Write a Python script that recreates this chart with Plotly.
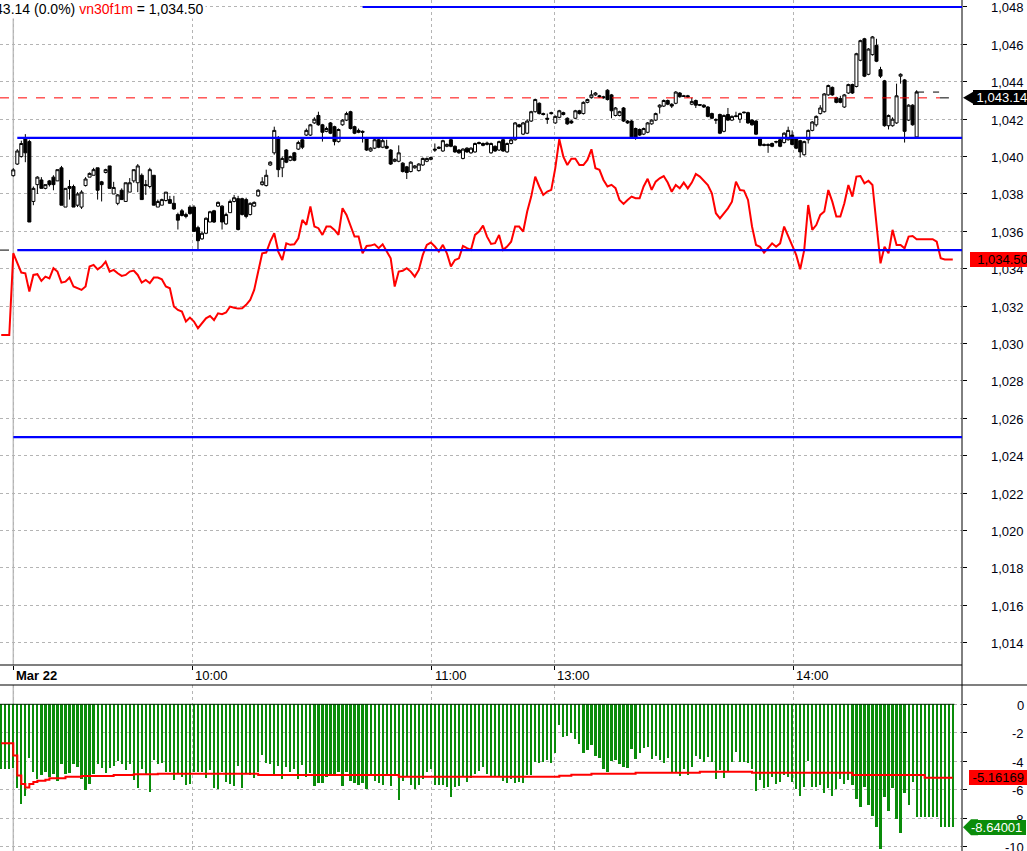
import plotly.graph_objects as go

# ---------------- data ----------------
bar_index = list(range(-3, 235))      # 1-minute bars (3 from previous session, then Mar 22)
candle_index = list(range(0, 226))

cndl_open = [
1038.98,1039.6,1040.0,1041.0,1040.8,1037.6,1038.5,1038.75,1038.3,1038.7,
1038.9,1038.7,1039.4,1037.3,1038.4,1038.4,1037.4,1037.3,1038.45,1038.9,
1039.0,1039.4,1038.65,1039.15,1039.5,1038.0,1037.5,1038.2,1037.6,1038.1,
1038.7,1038.6,1039.0,1038.5,1038.4,1039.0,1037.3,1037.4,1037.65,1037.7,
1037.5,1036.9,1037.1,1036.9,1037.3,1037.3,1036.2,1035.6,1035.9,1036.5,
1037.1,1037.35,1037.35,1036.4,1037.0,1037.6,1037.75,1037.75,1037.7,1036.9,
1037.35,1037.9,1038.5,1038.45,1039.55,1040.2,1041.0,1039.4,1040.35,1039.8,
1040.2,1040.4,1040.9,1041.15,1041.15,1041.8,1042.2,1041.7,1041.35,1041.8,
1041.6,1040.8,1041.7,1041.95,1042.4,1041.6,1041.4,1041.35,1041.0,1040.3,
1040.45,1040.9,1040.5,1040.55,1040.35,1039.75,1039.75,1039.65,1039.45,1039.2,
1039.4,1039.25,1039.55,1039.75,1039.85,1040.4,1040.5,1040.3,1040.55,1040.9,
1040.55,1040.35,1039.9,1040.45,1040.2,1040.25,1040.75,1040.7,1040.65,1040.2,
1040.55,1040.35,1040.9,1040.25,1040.7,1040.9,1041.7,1041.2,1041.25,1041.9,
1042.4,1042.85,1042.3,1042.05,1042.35,1041.8,1042.1,1042.35,1042.05,1041.9,
1042.05,1042.45,1042.3,1042.9,1043.15,1043.3,1043.25,1043.2,1043.55,1043.3,
1042.2,1042.2,1042.6,1041.9,1041.9,1041.5,1041.45,1041.2,1041.3,1041.75,
1041.95,1042.65,1042.7,1043.0,1042.8,1042.85,1043.4,1043.25,1043.25,1042.8,
1043.0,1042.78,1042.75,1042.65,1042.3,1041.98,1042.25,1041.35,1042.25,1041.95,
1042.18,1042.0,1042.38,1042.35,1041.95,1041.9,1041.0,1040.65,1040.65,1040.7,
1040.8,1040.9,1040.75,1040.9,1041.15,1040.95,1040.85,1040.1,1040.9,1041.4,
1041.7,1042.3,1042.4,1043.3,1043.7,1043.15,1043.1,1042.65,1043.4,1043.85,
1043.75,1045.15,1046.3,1044.4,1045.45,1045.95,1044.65,1044.05,1041.65,1041.65,
1041.8,1044.3,1044.1,1041.95,1042.75,1041.05]
cndl_high = [
1039.38,1040.4,1040.85,1041.2,1040.9,1038.4,1038.95,1038.9,1038.5,1038.75,
1039.0,1039.3,1039.5,1038.3,1038.75,1038.5,1038.1,1038.2,1038.9,1039.15,
1039.4,1039.4,1038.7,1039.35,1039.5,1038.65,1038.0,1038.3,1038.6,1038.85,
1039.3,1039.6,1039.1,1038.75,1039.4,1039.0,1037.7,1037.75,1038.1,1037.9,
1037.9,1037.0,1037.2,1037.0,1037.4,1037.4,1036.3,1036.0,1036.75,1037.1,
1037.15,1037.6,1037.4,1037.0,1037.7,1037.95,1037.9,1037.8,1037.8,1037.55,
1037.6,1038.25,1038.9,1039.3,1039.75,1041.6,1041.1,1040.0,1040.4,1040.05,
1040.25,1040.85,1041.0,1041.5,1041.75,1042.1,1042.4,1041.75,1041.6,1041.85,
1041.65,1041.5,1042.0,1042.4,1042.45,1041.65,1041.5,1041.4,1041.05,1040.5,
1040.95,1040.95,1041.0,1040.9,1040.4,1039.9,1040.6,1039.7,1039.5,1039.75,
1039.55,1039.65,1039.95,1039.95,1040.0,1040.7,1040.55,1040.9,1040.7,1040.95,
1040.6,1040.4,1040.45,1040.5,1040.5,1040.75,1040.8,1040.75,1040.8,1040.75,
1040.6,1040.85,1040.95,1040.75,1040.95,1041.85,1041.75,1041.85,1042.0,1042.45,
1043.1,1042.9,1042.35,1042.3,1042.4,1042.2,1042.5,1042.4,1042.1,1041.95,
1042.5,1042.5,1042.95,1043.1,1043.55,1043.45,1043.3,1043.25,1043.6,1043.35,
1042.65,1042.45,1042.65,1041.95,1041.95,1041.55,1041.5,1041.55,1041.85,1042.0,
1042.35,1042.8,1043.05,1043.05,1042.85,1043.5,1043.45,1043.3,1043.3,1043.15,
1043.05,1042.8,1042.8,1042.7,1042.35,1042.05,1042.3,1042.25,1042.6,1042.2,
1042.4,1042.35,1042.4,1042.4,1042.0,1041.95,1041.05,1040.7,1040.7,1040.75,
1040.85,1040.95,1041.3,1041.6,1041.4,1041.0,1040.9,1040.85,1041.45,1041.9,
1042.2,1042.75,1043.4,1043.85,1043.75,1043.2,1043.25,1043.35,1043.9,1043.9,
1045.55,1046.25,1046.35,1045.8,1046.45,1046.3,1044.8,1044.1,1042.25,1042.1,
1043.9,1044.45,1044.15,1042.8,1042.8,1043.55]
cndl_low = [
1038.93,1039.55,1039.95,1039.7,1036.5,1037.4,1038.0,1038.3,1038.25,1038.4,
1038.2,1038.7,1037.4,1037.3,1037.7,1037.3,1037.3,1037.2,1038.4,1038.9,
1039.0,1037.7,1037.6,1039.1,1038.3,1038.0,1037.4,1037.7,1037.6,1038.1,
1038.6,1038.1,1037.7,1037.95,1038.3,1037.4,1037.3,1037.4,1037.6,1037.5,
1037.15,1036.1,1036.8,1036.7,1036.9,1036.0,1035.05,1035.55,1035.85,1036.5,
1036.45,1037.3,1036.1,1036.35,1037.0,1037.55,1036.05,1036.85,1036.7,1036.85,
1037.3,1037.85,1038.45,1038.4,1039.5,1040.1,1038.9,1038.9,1039.65,1039.75,
1039.75,1040.35,1040.4,1041.1,1041.1,1041.75,1041.65,1040.8,1041.3,1041.2,
1040.6,1040.75,1041.65,1041.9,1041.45,1041.2,1041.25,1040.75,1040.3,1040.25,
1040.4,1040.45,1040.45,1040.4,1039.55,1039.7,1039.7,1039.15,1038.8,1039.15,
1039.35,1039.2,1039.5,1039.7,1039.8,1040.25,1040.4,1040.25,1040.5,1040.5,
1040.2,1040.15,1039.85,1040.2,1040.15,1040.2,1040.65,1040.55,1040.6,1040.15,
1040.25,1040.3,1040.25,1040.2,1040.65,1040.85,1041.55,1041.15,1041.2,1041.85,
1042.35,1042.25,1042.2,1041.75,1042.25,1041.75,1042.05,1042.2,1041.7,1041.75,
1042.0,1042.25,1042.25,1042.85,1043.1,1043.25,1043.15,1043.1,1043.0,1042.05,
1042.15,1042.15,1041.85,1041.75,1041.0,1040.9,1041.1,1041.15,1041.25,1041.7,
1041.9,1042.3,1042.65,1042.75,1042.6,1042.8,1043.15,1043.2,1043.15,1042.75,
1042.6,1042.7,1042.6,1042.1,1042.0,1041.75,1041.2,1041.3,1041.9,1041.9,
1042.1,1041.8,1042.3,1041.75,1041.65,1041.15,1040.55,1040.55,1040.2,1040.5,
1040.7,1040.5,1040.7,1040.85,1040.6,1040.4,1039.95,1040.05,1040.7,1041.35,
1041.6,1042.25,1042.35,1043.25,1043.25,1042.85,1042.85,1042.6,1043.35,1043.35,
1043.7,1045.1,1044.25,1044.35,1045.4,1045.05,1044.2,1041.6,1041.45,1041.6,
1041.75,1043.9,1040.75,1041.9,1041.65,1041.0]
cndl_close = [
1039.29,1040.3,1040.7,1040.2,1036.5,1038.3,1038.9,1038.3,1038.5,1038.5,
1038.5,1039.3,1037.4,1038.3,1038.3,1037.3,1038.0,1038.1,1038.8,1039.1,
1039.3,1038.2,1038.5,1039.3,1038.3,1038.35,1037.95,1037.7,1038.6,1038.6,
1039.3,1039.5,1037.7,1038.45,1039.3,1037.4,1037.6,1037.7,1038.1,1037.5,
1037.2,1036.6,1036.85,1036.8,1036.95,1036.0,1035.5,1035.9,1036.7,1037.05,
1036.5,1037.55,1036.5,1036.9,1037.6,1037.8,1036.1,1036.9,1036.8,1037.5,
1037.55,1038.2,1038.65,1039.0,1039.7,1041.4,1039.3,1039.9,1039.7,1040.0,
1039.8,1040.75,1040.5,1041.4,1041.7,1042.0,1041.7,1041.3,1041.5,1041.25,
1040.8,1041.45,1041.95,1042.3,1041.5,1041.25,1041.3,1041.3,1040.35,1040.45,
1040.9,1040.5,1040.85,1040.45,1039.6,1039.85,1040.2,1039.2,1039.15,1039.7,
1039.5,1039.6,1039.9,1039.9,1039.95,1040.35,1040.45,1040.85,1040.65,1040.55,
1040.25,1040.2,1040.4,1040.25,1040.45,1040.7,1040.7,1040.6,1040.72,1040.7,
1040.3,1040.8,1040.3,1040.7,1040.9,1041.8,1041.6,1041.8,1041.9,1042.4,
1043.05,1042.3,1042.25,1042.0,1042.3,1042.15,1042.45,1042.25,1041.75,1041.8,
1042.45,1042.3,1042.9,1043.05,1043.3,1043.4,1043.2,1043.15,1043.05,1042.45,
1042.6,1042.4,1041.9,1041.8,1041.05,1041.05,1041.15,1041.5,1041.8,1041.95,
1042.3,1042.75,1043.0,1042.8,1042.7,1043.45,1043.2,1043.22,1043.2,1042.95,
1042.75,1042.75,1042.65,1042.15,1042.05,1041.95,1041.25,1042.2,1041.95,1042.15,
1042.15,1042.3,1042.35,1041.8,1041.7,1041.2,1040.6,1040.6,1040.6,1040.55,
1040.78,1040.55,1041.25,1041.4,1040.65,1040.45,1040.25,1040.8,1041.4,1041.85,
1042.15,1042.6,1043.35,1043.8,1043.3,1042.9,1042.9,1043.3,1043.85,1043.4,
1045.5,1046.2,1044.3,1045.75,1046.4,1045.1,1044.3,1041.65,1042.2,1042.0,
1043.25,1044.4,1041.35,1042.75,1041.7,1043.45]

vn30_line = [
1030.46,1030.46,1030.46,
1034.83,1034.29,1033.80,1033.76,1032.78,1033.67,1033.71,1033.35,1033.58,1033.49,
1034.03,1033.85,1033.26,1033.31,1033.53,1033.05,1032.96,1032.87,1033.05,1034.12,
1034.21,1033.97,1034.12,1034.38,1033.85,1033.94,1033.76,1033.62,1033.67,1033.85,
1033.90,1033.67,1033.26,1033.40,1033.23,1033.53,1033.53,1033.44,1033.05,1032.96,
1031.98,1031.80,1031.71,1031.18,1031.39,1031.18,1030.82,1031.09,1031.35,1031.48,
1031.26,1031.62,1031.57,1031.66,1031.98,1031.92,1031.87,1031.89,1032.07,1032.33,
1032.87,1033.85,1034.83,1034.87,1035.45,1035.90,1034.92,1034.47,1035.36,1035.28,
1035.31,1035.63,
1036.61,1036.35,1037.33,1036.26,1036.17,1035.81,1036.26,1036.26,1036.08,1035.81,
1037.24,1036.88,1036.26,1035.72,1035.72,1034.83,1035.22,1035.24,1035.31,1035.10,
1035.31,1034.92,1034.56,1033.05,1033.85,1033.89,1034.03,1033.85,1033.58,1033.94,
1034.74,1035.28,1035.40,1035.19,1034.92,1035.28,1034.83,1034.12,1034.47,1034.56,
1035.22,1035.10,1035.01,1035.81,1035.99,1036.31,1035.72,1035.33,1035.37,1035.81,
1035.01,1035.19,1035.45,1036.26,1036.26,1035.99,1037.06,1037.86,1038.93,1038.40,
1037.95,1038.13,1038.22,1039.38,1040.93,1040.00,1039.55,1039.88,1039.88,1039.55,
1039.55,1039.82,1040.39,1039.38,1039.29,1038.75,1038.40,1038.49,1038.31,1037.68,
1037.47,1037.68,1037.86,1037.77,1037.77,1038.40,1038.81,1038.22,
1038.66,1038.84,1038.96,1038.61,1038.12,1038.48,1038.30,1038.61,1038.30,1038.61,
1039.07,1038.93,1038.70,1038.48,1038.04,1036.97,1036.70,1036.97,1037.23,1037.59,
1038.66,1038.21,1038.18,1037.68,1036.26,1035.27,1035.18,1034.86,1035.09,1035.36,
1035.18,1035.36,1036.26,1035.72,1035.18,1034.74,1033.97,1035.00,1037.41,1036.08,
1036.34,1036.88,1037.06,1038.21,1037.59,1036.79,1036.79,1037.50,1038.48,1037.86,
1038.93,1038.96,1038.57,1038.71,1038.48,1036.43,1034.29,1035.18,1034.83,1036.08,
1035.27,1035.27,1035.09,1035.72,1035.75,1035.58,1035.58,1035.58,1035.58,1035.58,
1035.45,1034.56,1034.50,1034.50,1034.50]

hist_values = [
-4.54,-4.54,-4.54,-4.50,
-5.85,-7.00,-6.44,-3.77,-4.73,-5.25,-4.97,-4.73,-5.13,-4.90,
-5.36,-4.19,-4.92,-4.80,-4.22,-4.38,-5.22,-6.02,-5.60,-4.90,
-4.22,-4.45,-4.82,-4.45,-4.33,-3.98,-4.22,-4.61,-4.19,-5.32,
-5.85,-4.54,-4.97,-6.14,-3.91,-4.19,-4.15,-4.73,-4.73,-5.32,
-4.92,-5.08,-5.67,-5.60,-4.73,-4.73,-4.73,-5.20,-4.61,-5.85,
-5.95,-4.73,-5.43,-5.60,-5.74,-4.33,-5.85,-4.90,-4.97,-5.20,
-4.73,-3.56,-4.10,-4.22,-4.97,-4.33,-5.27,-4.43,-4.73,-4.57,
-5.27,-4.26,-5.08,-4.80,-5.71,-5.55,-5.50,-5.13,-5.03,-4.97,
-4.73,-5.71,-4.73,-5.36,-5.50,-5.67,-5.55,-5.97,-4.97,-5.36,
-5.50,-5.67,-5.03,-5.74,-4.97,-6.72,
-5.36,-5.13,-5.67,-5.95,-5.67,-5.27,-4.73,-4.54,-5.67,-5.67,
-5.67,-5.78,-6.49,-5.78,-5.74,-5.13,-5.43,-5.20,-4.90,-4.66,
-4.38,-4.92,-5.13,-5.13,-5.13,-5.36,-5.50,-5.27,-5.50,-5.43,
-5.50,-4.97,-4.97,-4.03,-4.10,-4.03,-3.91,-4.10,-3.40,-1.46,
-2.27,-2.20,-2.04,-2.41,-2.79,-3.40,-3.21,-2.86,-3.61,-3.75,
-4.54,-4.73,-3.96,-3.91,-4.22,-4.38,-4.45,-3.14,-3.84,-3.40,
-3.09,-2.98,-3.84,-3.63,-3.91,-4.10,-3.79,-4.80,-4.85,-5.03,
-4.54,-4.97,-4.38,-3.61,-3.84,-4.03,-3.68,-4.03,-5.25,-4.61,
-5.15,-4.68,-4.03,-3.33,-4.03,-4.03,-4.10,-4.54,-6.06,-5.32,
-5.85,-5.78,-5.08,-5.60,-5.43,-4.97,-5.08,-5.43,-5.97,-6.42,
-5.78,-3.96,-5.78,-5.78,-5.67,-6.25,-5.85,-6.44,-5.95,-5.27,
-5.60,-5.32,-5.67,-6.67,-7.19,-5.78,-7.07,-7.82,-8.59,-10.16,
-6.49,-7.47,-5.85,-8.08,-9.06,-6.25,-7.07,-5.43,-7.89,-7.89,
-7.89,-7.89,-7.89,-7.89,-8.64,-8.64,-8.64,-8.64]

hist_avg = [
-2.74,-2.74,-2.74,-3.60,
-5.00,-5.60,-5.85,-5.60,-5.45,-5.36,-5.36,-5.30,-5.20,-5.20,-5.20,-5.20,
-5.08,-5.08,-5.08,-5.08,
-5.03,-5.03,-5.03,-5.03,-5.03,-5.03,-5.03,-5.03,
-4.97,-4.97,-4.97,-4.97,-4.97,
-4.92,-4.92,-4.92,-4.92,-4.92,-4.92,
-4.87,-4.87,-4.87,-4.87,-4.87,-4.87,-4.87,-4.87,-4.87,-4.87,
-4.87,-4.87,-4.87,-4.87,-4.87,-4.87,-4.87,-4.87,-4.87,-4.87,
-4.87,-4.87,-4.87,-4.87,-4.87,
-4.97,-4.97,-4.97,-4.97,-4.97,-4.97,-4.97,-4.97,-4.97,-4.97,
-4.97,-4.97,-4.97,-4.97,-4.97,-4.97,-4.97,-4.97,-4.97,-4.97,
-4.97,-4.97,-4.97,-4.97,-4.97,-4.97,-4.97,-4.97,-4.97,-4.97,
-4.97,-4.97,-4.97,-4.97,-4.97,
-5.08,-5.08,-5.08,-5.08,-5.08,-5.08,-5.08,-5.08,-5.08,-5.08,
-5.08,-5.08,-5.08,-5.08,-5.08,-5.08,-5.08,-5.08,-5.08,-5.08,
-5.08,-5.08,-5.08,-5.08,-5.08,-5.08,-5.08,-5.08,-5.08,-5.08,
-5.08,-5.08,-5.08,-5.08,-5.08,-5.08,-5.08,-5.08,-5.08,-5.08,
-5.01,-5.01,-5.01,
-4.94,-4.94,-4.94,-4.94,-4.94,
-4.87,-4.87,-4.87,-4.87,-4.87,-4.87,-4.87,-4.87,-4.87,-4.87,-4.87,
-4.80,-4.80,-4.80,-4.80,-4.80,-4.80,-4.80,-4.80,-4.80,-4.80,
-4.80,-4.80,-4.80,-4.80,-4.80,-4.80,
-4.73,-4.73,-4.73,-4.73,-4.73,-4.73,-4.73,-4.73,-4.73,-4.73,
-4.73,-4.73,-4.73,
-4.80,-4.80,-4.80,-4.80,-4.80,-4.80,-4.80,-4.80,-4.80,-4.80,
-4.80,-4.80,-4.80,-4.80,-4.80,-4.80,-4.80,-4.80,-4.80,-4.80,
-4.80,-4.80,-4.80,-4.80,-4.80,
-4.97,-4.97,-4.97,-4.97,-4.97,-4.97,-4.97,-4.97,-4.97,-4.97,
-4.97,-4.97,-4.97,-4.97,-4.97,-4.97,-4.97,-4.97,
-5.16,-5.16,-5.16,-5.16,-5.16,-5.16,-5.16,-5.16]

time_tick_pos = [0, 44.6, 104.2, 134.7, 194.3]
time_tick_text = ["<b>Mar 22</b>", "10:00", "11:00", "13:00", "14:00"]
price_ticks = [1014, 1016, 1018, 1020, 1022, 1024, 1026, 1028, 1030, 1032,
               1034, 1036, 1038, 1040, 1042, 1044, 1046, 1048]
price_tick_text = ["1,014", "1,016", "1,018", "1,020", "1,022", "1,024", "1,026",
                   "1,028", "1,030", "1,032", "1,034", "1,036", "1,038", "1,040",
                   "1,042", "1,044", "1,046", "1,048"]
osc_ticks = [0, -2, -4, -6, -8, -10]
osc_tick_text = ["0", "-2", "-4", "-6", "-8", "-10"]
level_values = [1048.0, 1041.0, 1035.0, 1025.0]
level_start = [87, 1, 1, 0]
ref_close = 1043.14
prev_close = 1035.0
vn30_last = 1034.50
hist_last = -8.64001
avg_last = -5.16169

# ---------------- layout geometry (pixels) ----------------
FW, FH = 1027, 851
PR = 962            # right edge of plotting area
MAIN_B = 665        # bottom of price pane
SUB_T = 685         # top of oscillator pane
X_RANGE = [-3.31, 236.3]
Y_RANGE = [1012.81, 1048.374]
Y2_RANGE = [-10.30, 1.355]
FONT = "Liberation Sans, Arial, sans-serif"
GRID = "#b4b4b4"


def px(x):
    return x / PR


def py(y):
    return 1 - y / FH


fig = go.Figure()

fig.add_trace(go.Scatter(x=bar_index, y=vn30_line, mode="lines",
                         line=dict(color="#ff0000", width=2),
                         xaxis="x", yaxis="y", showlegend=False))
fig.add_trace(go.Candlestick(x=candle_index, open=cndl_open, high=cndl_high,
                             low=cndl_low, close=cndl_close, whiskerwidth=0,
                             increasing=dict(line=dict(color="black", width=1), fillcolor="white"),
                             decreasing=dict(line=dict(color="black", width=1), fillcolor="black"),
                             xaxis="x", yaxis="y", showlegend=False))
fig.add_trace(go.Bar(x=bar_index, y=hist_values, width=0.55,
                     marker=dict(color="#0a8c0a", line=dict(width=0)),
                     xaxis="x2", yaxis="y2", showlegend=False))
fig.add_trace(go.Scatter(x=bar_index, y=hist_avg, mode="lines", line_shape="hv",
                         line=dict(color="#ff0000", width=2),
                         xaxis="x2", yaxis="y2", showlegend=False))

shapes = []
# axis frame lines
shapes.append(dict(type="line", xref="paper", yref="paper", x0=1, x1=1, y0=0, y1=1,
                   line=dict(color="black", width=1)))
shapes.append(dict(type="line", xref="paper", yref="paper", x0=0, x1=1, y0=py(MAIN_B), y1=py(MAIN_B),
                   line=dict(color="black", width=1.2)))
shapes.append(dict(type="line", xref="paper", yref="paper", x0=0, x1=px(FW), y0=py(SUB_T), y1=py(SUB_T),
                   line=dict(color="black", width=1.2)))
# session start line
shapes.append(dict(type="line", xref="x", yref="paper", x0=time_tick_pos[0], x1=time_tick_pos[0],
                   y0=py(17), y1=py(MAIN_B), line=dict(color="#c0c0c0", width=1.5), layer="below"))
shapes.append(dict(type="line", xref="x", yref="paper", x0=time_tick_pos[0], x1=time_tick_pos[0],
                   y0=0, y1=py(SUB_T), line=dict(color="#c0c0c0", width=1.5), layer="below"))
# blue levels
for lv, st in zip(level_values, level_start):
    shapes.append(dict(type="line", xref="x", yref="y", x0=st, x1=X_RANGE[1], y0=lv, y1=lv,
                       line=dict(color="#0000ff", width=2.2)))
# reference dashed lines
shapes.append(dict(type="line", xref="x", yref="y", x0=X_RANGE[0], x1=230.8, y0=ref_close, y1=ref_close,
                   line=dict(color="#ff0000", width=1, dash="dash")))
shapes.append(dict(type="line", xref="x", yref="y", x0=230.8, x1=234.6, y0=ref_close, y1=ref_close,
                   line=dict(color="black", width=1, dash="dash")))
shapes.append(dict(type="line", xref="x", yref="y", x0=224.6, x1=230.6,
                   y0=cndl_close[-1], y1=cndl_close[-1],
                   line=dict(color="black", width=1, dash="dash")))
shapes.append(dict(type="line", xref="x", yref="y", x0=X_RANGE[0], x1=-0.4, y0=prev_close, y1=prev_close,
                   line=dict(color="black", width=1, dash="dash")))
# zero line of oscillator
shapes.append(dict(type="line", xref="x2", yref="y2", x0=-3.5, x1=234.4, y0=0, y1=0,
                   line=dict(color="#002800", width=1)))
# arrow tips of value labels
shapes.append(dict(type="path", xref="paper", yref="y", xsizemode="pixel", ysizemode="pixel",
                   xanchor=1, yanchor=ref_close,
                   path="M 1 0 L 12 6.5 L 20 6.5 L 20 -6.5 L 12 -6.5 Z",
                   fillcolor="black", line=dict(width=0)))
shapes.append(dict(type="path", xref="paper", yref="y2", xsizemode="pixel", ysizemode="pixel",
                   xanchor=1, yanchor=hist_last,
                   path="M 1 0 L 9 8 L 16 8 L 16 -8 L 9 -8 Z",
                   fillcolor="#0a8c0a", line=dict(width=0)))

ann = []
# title
ann.append(dict(xref="paper", yref="paper", x=px(206), y=py(8.5), xanchor="right", yanchor="middle",
                text="VN30F1M - 1 Minute  Close 1,043.14 (0.0%) <span style='color:#ff0000'>vn30f1m</span> = 1,034.50",
                showarrow=False, bgcolor="white", borderpad=1,
                font=dict(family=FONT, size=14, color="black")))
# time labels
for pos, txt in zip(time_tick_pos, time_tick_text):
    ann.append(dict(xref="x", yref="paper", x=pos, y=py(675), xanchor="left", yanchor="middle",
                    xshift=1, text=txt, showarrow=False,
                    font=dict(family=FONT, size=13, color="black")))
# price axis labels
for v, t in zip(price_ticks, price_tick_text):
    ann.append(dict(xref="paper", yref="y", x=px(1026), y=v, xanchor="right", yanchor="middle",
                    yshift=-1, text=t, showarrow=False,
                    font=dict(family=FONT, size=13, color="#000010")))
for v, t in zip(osc_ticks, osc_tick_text):
    ann.append(dict(xref="paper", yref="y2", x=px(1026), y=v, xanchor="right", yanchor="middle",
                    yshift=-1, text=t, showarrow=False,
                    font=dict(family=FONT, size=13, color="#000010")))
# value labels
ann.append(dict(xref="paper", yref="y", x=px(973), y=ref_close, xanchor="left", yanchor="middle",
                text="&nbsp;1,043.14&nbsp;", showarrow=False, bgcolor="black", borderpad=0, borderwidth=0,
                font=dict(family=FONT, size=13, color="white")))
ann.append(dict(xref="paper", yref="y", x=px(970), y=vn30_last, xanchor="left", yanchor="middle",
                text="&nbsp;&nbsp;1,034.50", showarrow=False, bgcolor="#ff0000", borderpad=0, borderwidth=0,
                font=dict(family=FONT, size=13, color="black")))
ann.append(dict(xref="paper", yref="y2", x=px(969), y=avg_last, xanchor="left", yanchor="middle",
                text="&nbsp;-5.16169&nbsp;", showarrow=False, bgcolor="#ff0000", borderpad=0, borderwidth=0,
                font=dict(family=FONT, size=13, color="black")))
ann.append(dict(xref="paper", yref="y2", x=px(971), y=hist_last, xanchor="left", yanchor="middle",
                text="-8.64001&nbsp;", showarrow=False, bgcolor="#0a8c0a", borderpad=0, borderwidth=0,
                font=dict(family=FONT, size=13, color="white")))

axis_common = dict(showline=False, zeroline=False, showgrid=True, gridcolor=GRID,
                   griddash="dot", gridwidth=1)

fig.update_layout(
    width=FW, height=FH,
    margin=dict(l=0, r=FW - PR, t=0, b=0),
    paper_bgcolor="white", plot_bgcolor="white",
    showlegend=False, bargap=0, boxgap=0.25, boxgroupgap=0,
    xaxis=dict(domain=[0, 1], range=X_RANGE, anchor="y", type="linear",
               tickvals=time_tick_pos, ticks="outside", ticklen=4, tickcolor="black",
               showticklabels=False, rangeslider=dict(visible=False), **axis_common),
    yaxis=dict(domain=[py(MAIN_B), 1], range=Y_RANGE, side="right", anchor="x",
               tickvals=price_ticks, ticks="outside", ticklen=4, tickcolor="black",
               showticklabels=False, **axis_common),
    xaxis2=dict(domain=[0, 1], range=X_RANGE, anchor="y2", type="linear",
                tickvals=time_tick_pos, ticks="", showticklabels=False, **axis_common),
    yaxis2=dict(domain=[0, py(SUB_T)], range=Y2_RANGE, side="right", anchor="x2",
                tickvals=osc_ticks, ticks="outside", ticklen=4, tickcolor="black",
                showticklabels=False, **axis_common),
    shapes=shapes,
    annotations=ann,
)

fig.write_html("out.html", config={"displayModeBar": False},
               post_script="document.body.style.margin='0px';document.body.style.overflow='hidden';")
